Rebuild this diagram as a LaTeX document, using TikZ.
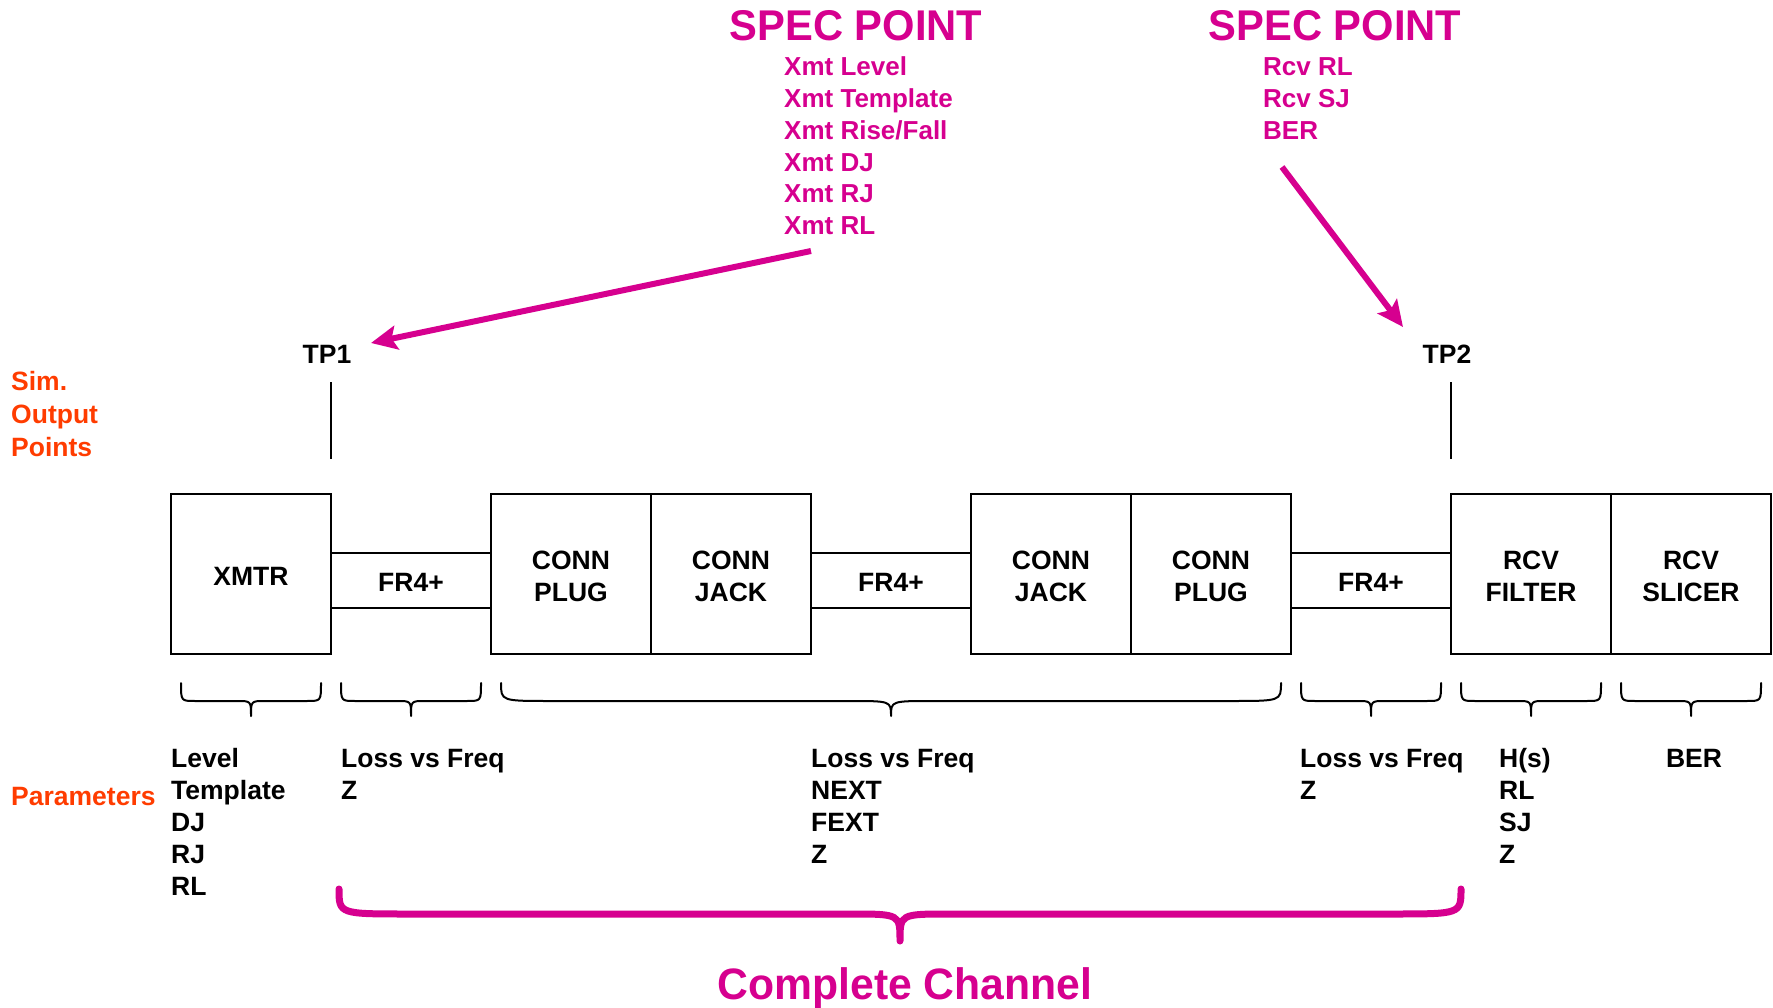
\documentclass[tikz,border=0pt]{standalone}
\usepackage{fontspec}
\setmainfont{Liberation Sans}
\usetikzlibrary{arrows.meta}
\definecolor{specmag}{RGB}{214,0,143}
\definecolor{simorange}{RGB}{255,60,0}

% curly brace: #1,#2 end x; #3 end y; #4 bar y; #5 tip y; #6 end radius; #7 tip radius; #8 style
\newcommand{\chbrace}[8]{%
  \pgfmathsetmacro\bmid{(#1+#2)/2}%
  \draw[#8] (#1,#3) .. controls (#1,#4) .. (#1+#6,#4) -- (\bmid-#7,#4)
    .. controls (\bmid,#4) .. (\bmid,#5)
    .. controls (\bmid,#4) .. (\bmid+#7,#4) -- (#2-#6,#4)
    .. controls (#2,#4) .. (#2,#3);
}

\begin{document}
\begin{tikzpicture}[x=1pt,y=-1pt,
  txt/.style={font=\fontsize{26.5}{32}\selectfont\bfseries, inner sep=0pt},
  lbl/.style={txt, anchor=base west},
  btxt/.style={txt, align=center, yshift=-2.3pt},
  block/.style={draw, line width=2.5pt, minimum width=160pt, minimum height=160pt,
    inner sep=0pt},
  trace/.style={draw, line width=2.5pt, minimum width=160pt, minimum height=55pt,
    inner sep=0pt},
  bracestyle/.style={line width=2pt, line join=round, line cap=round},
  bigbrace/.style={line width=7pt, line join=round, line cap=round, specmag},
  specarrow/.style={line width=6pt, specmag, -{Stealth[length=26pt,width=24pt,inset=5pt]}},
  spectitle/.style={font=\fontsize{43}{50}\selectfont\bfseries, text=specmag, inner sep=0pt,
    anchor=base, xscale=0.97},
  speclbl/.style={lbl, font=\fontsize{26}{32}\selectfont\bfseries, text=specmag},
  simlbl/.style={lbl, text=simorange}]

\useasboundingbox (0,0) rectangle (1773,1008);

% signal chain
\node[block, label={[btxt]center:XMTR}]         (xmtr)   at (251,574)   {};
\node[trace, label={[btxt]center:FR4+}]         (fr1)    at (411,580.5) {};
\node[block, label={[btxt]center:{CONN\\PLUG}}] (plug1)  at (571,574)   {};
\node[block, label={[btxt]center:{CONN\\JACK}}] (jack1)  at (731,574)   {};
\node[trace, label={[btxt]center:FR4+}]         (fr2)    at (891,580.5) {};
\node[block, label={[btxt]center:{CONN\\JACK}}] (jack2)  at (1051,574)  {};
\node[block, label={[btxt]center:{CONN\\PLUG}}] (plug2)  at (1211,574)  {};
\node[trace, label={[btxt]center:FR4+}]         (fr3)    at (1371,580.5){};
\node[block, label={[btxt]center:{RCV\\FILTER}}] (filt)  at (1531,574)  {};
\node[block, label={[btxt]center:{RCV\\SLICER}}] (slicer) at (1691,574) {};

% test points
\node[txt, anchor=base] (tp1) at (327,363) {TP1};
\node[txt, anchor=base] (tp2) at (1447,363) {TP2};
\coordinate (tp1a) at (331,382);
\coordinate (tp1b) at (331,459);
\coordinate (tp2a) at (1451,382);
\coordinate (tp2b) at (1451,459);
\draw[line width=2pt] (tp1a) -- (tp1b);
\draw[line width=2pt] (tp2a) -- (tp2b);

% side labels
\node[simlbl] (sim1) at (11,391) {Sim.};
\node[simlbl] (sim2) at (11,423) {Output};
\node[simlbl] (sim3) at (11,456) {Points};
\node[simlbl] (param) at (11,805) {Parameters};

% spec points
\node[spectitle] (spec1) at (856,41) {SPEC POINT};
\node[spectitle] (spec2) at (1335,41) {SPEC POINT};
\foreach \t [count=\i] in {Xmt Level,Xmt Template,Xmt Rise/Fall,Xmt DJ,Xmt RJ,Xmt RL}
  \node[speclbl] (xs\i) at (784,{76+31.7*(\i-1)}) {\t};
\foreach \t [count=\i] in {Rcv RL,Rcv SJ,BER}
  \node[speclbl] (rs\i) at (1263,{76+31.7*(\i-1)}) {\t};

\coordinate (a1s) at (811,251);
\coordinate (a1e) at (371,343);
\coordinate (a2s) at (1282,167);
\coordinate (a2e) at (1403,327);
\draw[specarrow] (a1s) -- (a1e);
\draw[specarrow] (a2s) -- (a2e);

% parameter braces
\chbrace{181}{321}{683}{701}{716}{14}{14}{bracestyle}
\chbrace{341}{481}{683}{701}{716}{14}{14}{bracestyle}
\chbrace{501}{1281}{683}{701}{716}{50}{42}{bracestyle}
\chbrace{1301}{1441}{683}{701}{716}{14}{14}{bracestyle}
\chbrace{1461}{1601}{683}{701}{716}{14}{14}{bracestyle}
\chbrace{1621}{1761}{683}{701}{716}{14}{14}{bracestyle}

% parameter lists
\foreach \t [count=\i] in {Level,Template,DJ,RJ,RL}
  \node[lbl] (pa\i) at (171,{767+32*(\i-1)}) {\t};
\foreach \t [count=\i] in {Loss vs Freq,Z}
  \node[lbl] (pb\i) at (341,{767+32*(\i-1)}) {\t};
\foreach \t [count=\i] in {Loss vs Freq,NEXT,FEXT,Z}
  \node[lbl] (pc\i) at (811,{767+32*(\i-1)}) {\t};
\foreach \t [count=\i] in {Loss vs Freq,Z}
  \node[lbl] (pd\i) at (1300,{767+32*(\i-1)}) {\t};
\foreach \t [count=\i] in {{H(s)},RL,SJ,Z}
  \node[lbl] (pe\i) at (1499,{767+32*(\i-1)}) {\t};
\node[txt, anchor=base] (pf1) at (1694,767) {BER};

% complete channel
\chbrace{339}{1461}{889}{914}{941}{70}{50}{bigbrace}
\node[font=\fontsize{44}{50}\selectfont\bfseries, text=specmag, inner sep=0pt, anchor=base,
  xscale=0.97] (chan) at (905,999) {Complete Channel};

\end{tikzpicture}
\end{document}
